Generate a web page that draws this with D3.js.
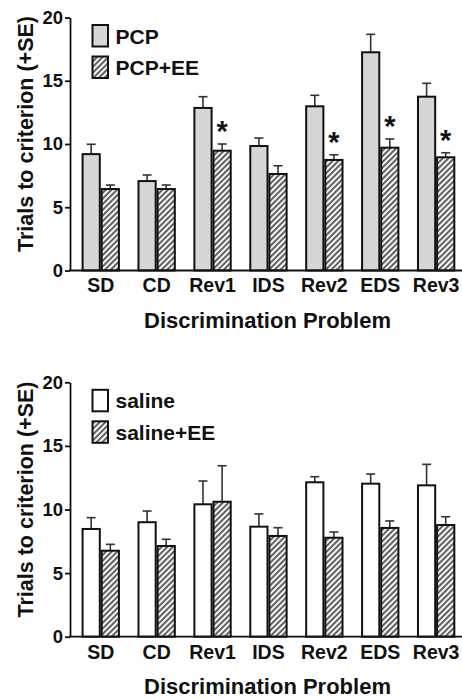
<!DOCTYPE html>
<html>
<head>
<meta charset="utf-8">
<script src="https://cdn.jsdelivr.net/npm/d3@7"></script>
<style>
  body { margin: 0; background: #fff; }
  svg text { font-family: "Liberation Sans", Arial, sans-serif; font-weight: bold; fill: #111; }
</style>
</head>
<body>
<div id="chart"></div>
<script>
// ---- data ----
const problems = ["SD", "CD", "Rev1", "IDS", "Rev2", "EDS", "Rev3"];
const yTicks = [0, 5, 10, 15, 20];

const pcp      = [9.2, 7.07, 12.85, 9.84, 12.98, 17.25, 13.74];
const pcpSE    = [0.78, 0.48, 0.89, 0.63, 0.87, 1.42, 1.06];
const pcpEE    = [6.44, 6.44, 9.47, 7.63, 8.74, 9.71, 8.95];
const pcpEESE  = [0.32, 0.32, 0.53, 0.65, 0.41, 0.69, 0.36];
const pcpEESig = [false, false, true, false, true, true, true];

const saline     = [8.47, 9.0, 10.41, 8.65, 12.14, 12.03, 11.9];
const salineSE   = [0.89, 0.88, 1.83, 1.0, 0.44, 0.76, 1.65];
const salineEE   = [6.76, 7.13, 10.61, 7.92, 7.78, 8.55, 8.78];
const salineEESE = [0.5, 0.53, 2.83, 0.65, 0.45, 0.55, 0.65];
const salineEESig = [false, false, false, false, false, false, false];

const width = 462, height = 699;
const axisX = 70, axisRight = 462;

const svg = d3.select("#chart").append("svg")
    .attr("width", width)
    .attr("height", height);

// hatch pattern for the EE groups
svg.append("defs").append("pattern")
    .attr("id", "hatch")
    .attr("patternUnits", "userSpaceOnUse")
    .attr("width", 4)
    .attr("height", 4)
    .attr("patternTransform", "rotate(45)")
  .call(p => {
    p.append("rect").attr("width", 4).attr("height", 4).attr("fill", "#f5f5f5");
    p.append("line").attr("x1", 1).attr("y1", 0).attr("x2", 1).attr("y2", 4)
      .attr("stroke", "#222").attr("stroke-width", 1.4);
  });

var x = d3.scaleBand()
    .domain(problems)
    .range([72.8, 464.1])
    .paddingInner(0.35)
    .paddingOuter(0.175);

var sub = d3.scaleBand()
    .domain([0, 1])
    .range([0, x.bandwidth()])
    .paddingInner(0.1);

function drawPanel(opt) {
  var g = svg.append("g");
  var y = d3.scaleLinear().domain([0, 20]).range([opt.bottom, opt.top]);

  var series = [
    { name: opt.names[0], vals: opt.a, se: opt.aSE, fill: opt.fillA, sig: null },
    { name: opt.names[1], vals: opt.b, se: opt.bSE, fill: "url(#hatch)", sig: opt.sig }
  ];

  series.forEach(function(s, si) {
    var rows = problems.map((p, i) => ({ p: p, v: s.vals[i], e: s.se[i], sig: s.sig ? s.sig[i] : false }));
    var cx = d => x(d.p) + sub(si) + sub.bandwidth() / 2;

    // error bars (upper only)
    g.selectAll(null).data(rows).enter().append("line")
      .attr("x1", cx).attr("x2", cx)
      .attr("y1", d => y(d.v)).attr("y2", d => y(d.v + d.e))
      .attr("stroke", "#333").attr("stroke-width", 1.6);
    g.selectAll(null).data(rows).enter().append("line")
      .attr("x1", d => cx(d) - 4.5).attr("x2", d => cx(d) + 4.5)
      .attr("y1", d => y(d.v + d.e)).attr("y2", d => y(d.v + d.e))
      .attr("stroke", "#333").attr("stroke-width", 1.6);

    g.selectAll(null).data(rows).enter().append("rect")
      .attr("x", d => x(d.p) + sub(si))
      .attr("y", d => y(d.v))
      .attr("width", sub.bandwidth())
      .attr("height", d => y(0) - y(d.v))
      .attr("fill", s.fill)
      .attr("stroke", "#111")
      .attr("stroke-width", 2);

    g.selectAll(null).data(rows.filter(d => d.sig)).enter().append("text")
      .attr("x", cx)
      .attr("y", d => y(d.v + d.e) - 3)
      .attr("text-anchor", "middle")
      .style("font-size", "29px")
      .text("*");

    // legend
    var ly = opt.top + 7.5 + si * 31.5;
    g.append("rect")
      .attr("x", 92.5).attr("y", ly)
      .attr("width", 15.5).attr("height", 21.5)
      .attr("fill", s.fill)
      .attr("stroke", "#111").attr("stroke-width", 2);
    g.append("text")
      .attr("x", 115.5).attr("y", ly + 18.5)
      .style("font-size", "21px")
      .text(s.name);
  });

  // axes
  var yAxis = d3.axisLeft(y).tickValues(yTicks).tickSize(5).tickPadding(2).tickSizeOuter(0);
  var ya = g.append("g").attr("transform", "translate(" + axisX + ",0)").call(yAxis);
  ya.selectAll("text").style("font-size", "18.5px").attr("fill", "#111");
  ya.selectAll("line,path").attr("stroke", "#111").attr("stroke-width", 1.8);

  var xAxis = d3.axisBottom(x).tickSize(0).tickPadding(8);
  var xa = g.append("g").attr("transform", "translate(0," + opt.bottom + ")").call(xAxis);
  xa.select(".domain").remove();
  xa.selectAll("text").style("font-size", "19.5px").attr("fill", "#111");
  g.append("line")
    .attr("x1", axisX - 1).attr("x2", axisRight)
    .attr("y1", opt.bottom).attr("y2", opt.bottom)
    .attr("stroke", "#111").attr("stroke-width", 1.8);

  g.append("text")
    .attr("x", 267.5)
    .attr("y", opt.bottom + 57)
    .attr("text-anchor", "middle")
    .style("font-size", "22px")
    .text("Discrimination Problem");

  g.append("text")
    .attr("transform", "translate(33," + ((opt.top + opt.bottom) / 2 - 10) + ") rotate(-90)")
    .attr("text-anchor", "middle")
    .style("font-size", "21.5px")
    .text("Trials to criterion (+SE)");
}

drawPanel({ top: 17.5, bottom: 270.5, names: ["PCP", "PCP+EE"],
  a: pcp, aSE: pcpSE, b: pcpEE, bSE: pcpEESE, sig: pcpEESig, fillA: "#d6d6d6" });
drawPanel({ top: 382.3, bottom: 636.7, names: ["saline", "saline+EE"],
  a: saline, aSE: salineSE, b: salineEE, bSE: salineEESE, sig: salineEESig, fillA: "#ffffff" });
</script>
</body>
</html>
